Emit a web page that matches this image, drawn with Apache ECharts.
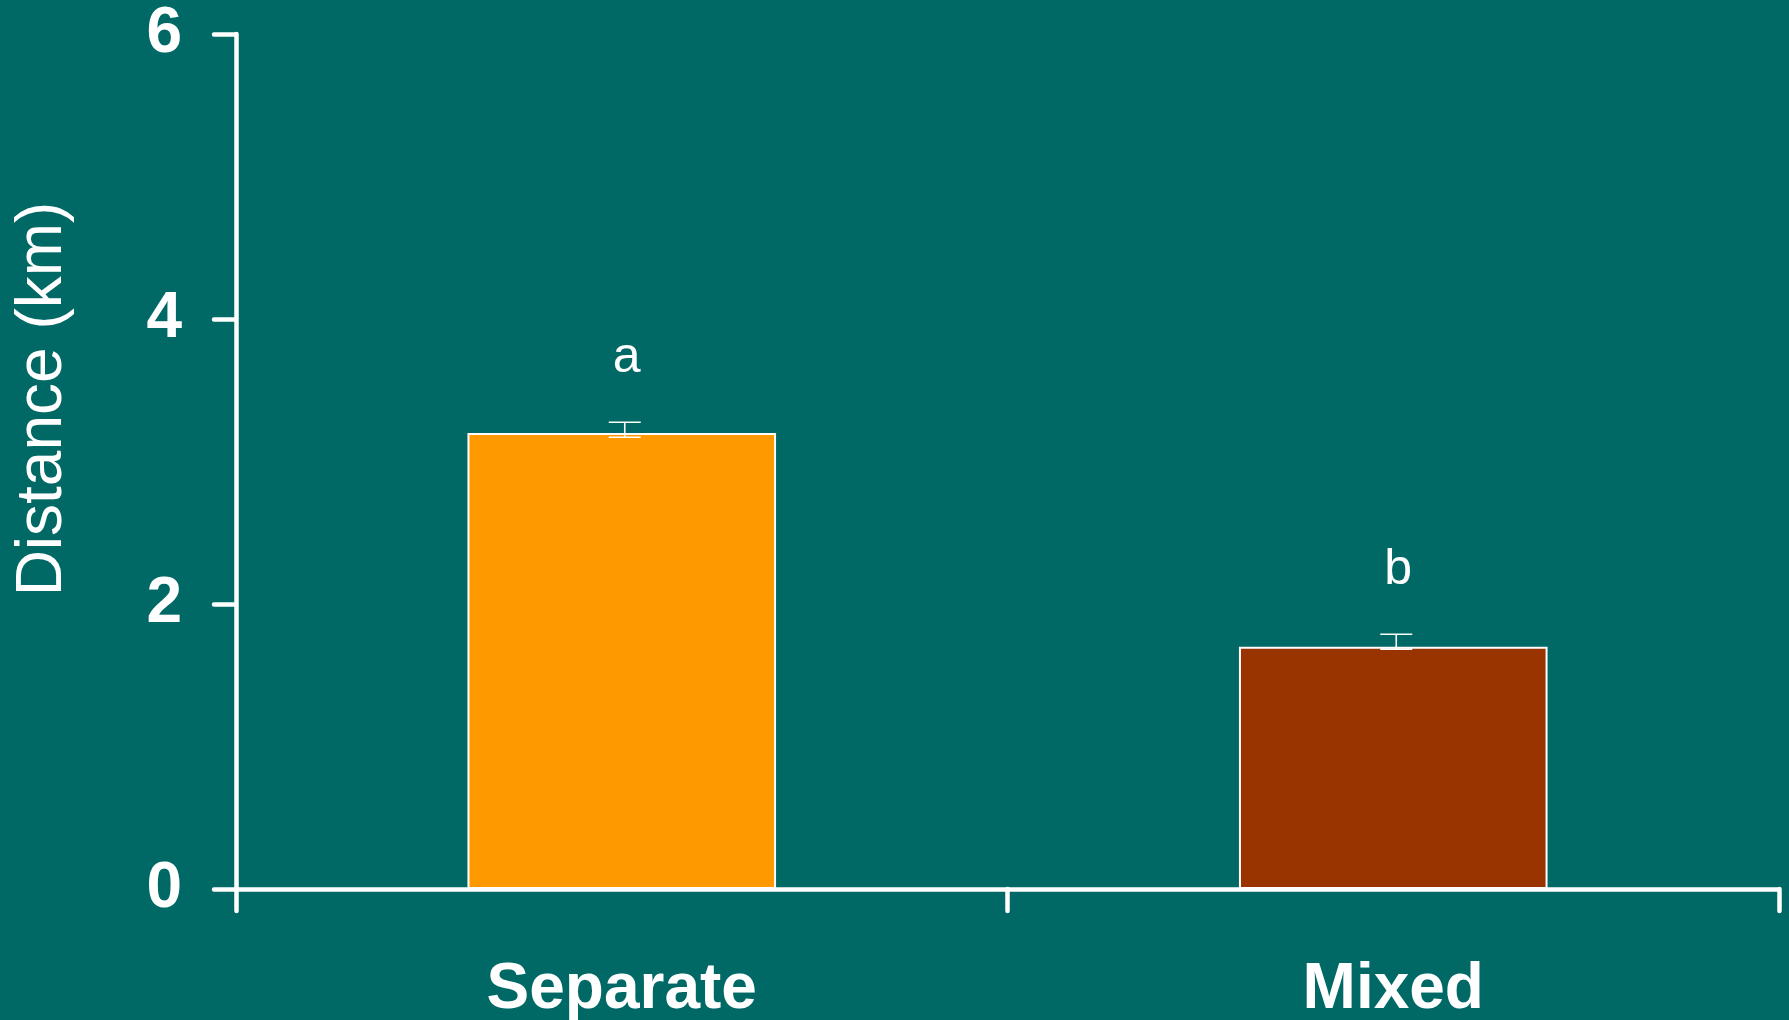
<!DOCTYPE html>
<html>
<head>
<meta charset="utf-8">
<script src="https://cdn.jsdelivr.net/npm/echarts@6/dist/echarts.min.js"></script>
<style>
html,body{margin:0;padding:0;background:#006966;}
#chart{width:1789px;height:1020px;}
</style>
</head>
<body>
<div id="chart"></div>
<script>
var categories = ['Separate', 'Mixed'];
var meanValues = [3.20, 1.70];
var errLow = [3.17, 1.683];
var errHigh = [3.275, 1.788];
var sigLetters = ['a', 'b'];
var barColors = ['#FF9900', '#993300'];
var yTicks = [0, 2, 4, 6];

var chart = echarts.init(document.getElementById('chart'));
var font = '"Liberation Sans", Arial, Helvetica, sans-serif';

var errData = categories.map(function (c, i) { return [i, errLow[i], errHigh[i], sigLetters[i]]; });

var option = {
  backgroundColor: '#006966',
  animation: false,
  grid: { left: 236, right: 10, top: 34, bottom: 131, containLabel: false, outerBoundsMode: 'none' },
  xAxis: {
    type: 'category',
    data: categories,
    boundaryGap: true,
    axisLine: { lineStyle: { color: '#fff', width: 4.5, cap: 'round' } },
    axisTick: { show: true, length: 22, alignWithLabel: false, lineStyle: { color: '#fff', width: 4.5, cap: 'round' } },
    axisLabel: { color: '#fff', fontFamily: font, fontWeight: 'bold', fontSize: 64, margin: 69 }
  },
  yAxis: {
    type: 'value',
    min: yTicks[0],
    max: yTicks[yTicks.length - 1],
    interval: 2,
    splitLine: { show: false },
    axisLine: { show: true, lineStyle: { color: '#fff', width: 4.5, cap: 'round' } },
    axisTick: { show: true, length: 22, lineStyle: { color: '#fff', width: 4.5, cap: 'round' } },
    axisLabel: { color: '#fff', fontFamily: font, fontWeight: 'bold', fontSize: 64, margin: 54 }
  },
  graphic: [{
    type: 'text',
    x: 43, y: 399,
    rotation: Math.PI / 2,
    style: {
      text: 'Distance (km)',
      fill: '#fff',
      font: '64px ' + font,
      textAlign: 'center',
      textVerticalAlign: 'middle'
    }
  }],
  series: [{
    type: 'bar',
    barWidth: '40%',
    data: meanValues.map(function (v, i) {
      return { value: v, itemStyle: { color: barColors[i] } };
    }),
    itemStyle: { borderColor: '#fff', borderWidth: 2 }
  }, {
    type: 'custom',
    data: errData,
    z: 10,
    renderItem: function (params, api) {
      var idx = api.value(0);
      var top = api.coord([idx, api.value(2)]);
      var bot = api.coord([idx, api.value(1)]);
      var x = top[0] + 3;
      var hw = 16;
      var st = { stroke: '#fff', lineWidth: 1.6 };
      return {
        type: 'group',
        children: [
          { type: 'line', shape: { x1: x, y1: top[1], x2: x, y2: bot[1] }, style: st },
          { type: 'line', shape: { x1: x - hw, y1: top[1], x2: x + hw, y2: top[1] }, style: st },
          { type: 'line', shape: { x1: x - hw, y1: bot[1], x2: x + hw, y2: bot[1] }, style: st },
          { type: 'text', style: { text: api.value(3), x: x + 2, y: top[1] - 64, fill: '#fff', font: '50px ' + font, textAlign: 'center', textVerticalAlign: 'middle' } }
        ]
      };
    }
  }]
};
chart.setOption(option);
</script>
</body>
</html>
